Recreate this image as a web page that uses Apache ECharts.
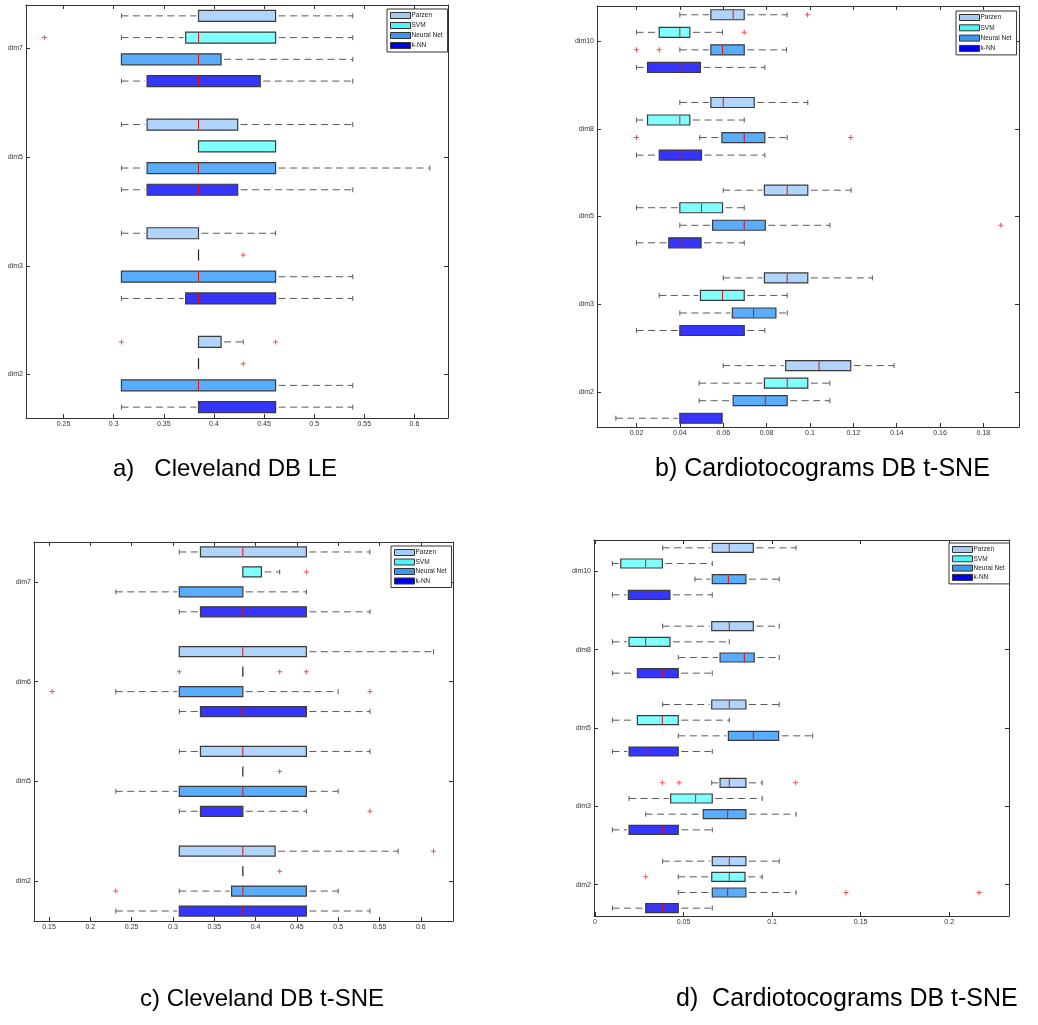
<!DOCTYPE html>
<html><head><meta charset="utf-8">
<script src="https://cdn.jsdelivr.net/npm/echarts@6/dist/echarts.min.js"></script>
<style>html,body{margin:0;padding:0;background:#fff}#c{width:1038px;height:1025px}</style>
</head><body><div id="c"></div>
<script>
const METHODS = ['Parzen', 'SVM', 'Neural Net', 'k-NN'];

// each row: [min, q1, median, q3, max], rows in the order of the dims list (top to bottom)
// ---- a) Cleveland DB LE
const A_DIMS = ['dim7', 'dim5', 'dim3', 'dim2'];
const A_XTICKS = [0.25, 0.3, 0.35, 0.4, 0.45, 0.5, 0.55, 0.6];
const A_PARZEN = [[0.3077,0.3846,0.3846,0.4615,0.5385],[0.3077,0.3333,0.3846,0.4237,0.5385],[0.3077,0.3333,0.3846,0.3846,0.4615],[0.3846,0.3846,0.3846,0.4071,0.4292]];
const A_SVM    = [[0.3077,0.3718,0.3846,0.4615,0.5385],[0.3846,0.3846,0.3846,0.4615,0.4615],[0.3846,0.3846,0.3846,0.3846,0.3846],[0.3846,0.3846,0.3846,0.3846,0.3846]];
const A_NN     = [[0.3077,0.3077,0.3846,0.4071,0.5385],[0.3077,0.3333,0.3846,0.4615,0.6154],[0.3077,0.3077,0.3846,0.4615,0.5385],[0.3077,0.3077,0.3846,0.4615,0.5385]];
const A_KNN    = [[0.3077,0.3333,0.3846,0.4462,0.5385],[0.3077,0.3333,0.3846,0.4237,0.5385],[0.3077,0.3718,0.3846,0.4615,0.5385],[0.3077,0.3846,0.3846,0.4615,0.5385]];
const A_OUT = [['dim7','SVM',0.2308],['dim3','SVM',0.4292],['dim2','Parzen',0.3077],['dim2','Parzen',0.4615],['dim2','SVM',0.4292]];

// ---- b) Cardiotocograms DB t-SNE
const B_DIMS = ['dim10', 'dim8', 'dim5', 'dim3', 'dim2'];
const B_XTICKS = [0.02, 0.04, 0.06, 0.08, 0.1, 0.12, 0.14, 0.16, 0.18];
const B_PARZEN = [[0.04,0.0543,0.0646,0.0697,0.0895],[0.04,0.0543,0.06,0.0743,0.099],[0.06,0.079,0.0895,0.099,0.119],[0.06,0.079,0.0895,0.099,0.1288],[0.06,0.0888,0.1042,0.1188,0.1388]];
const B_SVM    = [[0.02,0.0305,0.04,0.0446,0.0597],[0.02,0.0251,0.04,0.0446,0.0697],[0.02,0.04,0.05,0.0597,0.0697],[0.0305,0.0495,0.0597,0.0697,0.0895],[0.0489,0.079,0.0895,0.099,0.1092]];
const B_NN     = [[0.04,0.0543,0.0597,0.0697,0.0892],[0.0492,0.0594,0.0697,0.0792,0.0895],[0.04,0.0551,0.0697,0.0794,0.1092],[0.04,0.0642,0.074,0.0843,0.0895],[0.0489,0.0646,0.0794,0.0895,0.1092]];
const B_KNN    = [[0.02,0.0251,0.04,0.0495,0.0792],[0.02,0.0305,0.04,0.05,0.0792],[0.02,0.0349,0.04,0.0498,0.0697],[0.02,0.04,0.05,0.0697,0.0792],[0.0105,0.04,0.05,0.0595,0.0595]];
const B_OUT = [['dim10','Parzen',0.0989],['dim10','SVM',0.0697],['dim10','Neural Net',0.02],['dim10','Neural Net',0.0305],['dim8','Neural Net',0.02],['dim8','Neural Net',0.1188],['dim5','Neural Net',0.188]];

// ---- c) Cleveland DB t-SNE
const C_DIMS = ['dim7', 'dim6', 'dim5', 'dim2'];
const C_XTICKS = [0.15, 0.2, 0.25, 0.3, 0.35, 0.4, 0.45, 0.5, 0.55, 0.6];
const C_PARZEN = [[0.3077,0.3333,0.3846,0.4615,0.5385],[0.3077,0.3077,0.3846,0.4615,0.6154],[0.3077,0.3333,0.3846,0.4615,0.5385],[0.3077,0.3077,0.3846,0.4237,0.5726]];
const C_SVM    = [[0.3846,0.3846,0.3846,0.4071,0.4292],[0.3846,0.3846,0.3846,0.3846,0.3846],[0.3846,0.3846,0.3846,0.3846,0.3846],[0.3846,0.3846,0.3846,0.3846,0.3846]];
const C_NN     = [[0.2308,0.3077,0.3846,0.3846,0.4615],[0.2308,0.3077,0.3846,0.3846,0.5],[0.2308,0.3077,0.3846,0.4615,0.5],[0.3077,0.371,0.3846,0.4615,0.5]];
const C_KNN    = [[0.3077,0.3333,0.3846,0.4615,0.5385],[0.3077,0.3333,0.3846,0.4615,0.5385],[0.3077,0.3333,0.3846,0.3846,0.4615],[0.2308,0.3077,0.3846,0.4615,0.5385]];
const C_OUT = [['dim7','SVM',0.4615],['dim6','SVM',0.3077],['dim6','SVM',0.4292],['dim6','SVM',0.4615],['dim6','Neural Net',0.1538],['dim6','Neural Net',0.5385],['dim5','SVM',0.4292],['dim5','k-NN',0.5385],['dim2','Parzen',0.6154],['dim2','SVM',0.4292],['dim2','Neural Net',0.2308]];

// ---- d) Cardiotocograms DB t-SNE
const D_DIMS = ['dim10', 'dim8', 'dim5', 'dim3', 'dim2'];
const D_XTICKS = [0, 0.05, 0.1, 0.15, 0.2];
const D_PARZEN = [[0.0382,0.0662,0.0758,0.0894,0.1135],[0.0382,0.0659,0.0758,0.0894,0.104],[0.0382,0.0659,0.0758,0.0852,0.104],[0.0659,0.0706,0.0758,0.0852,0.0944],[0.0382,0.0662,0.0758,0.0852,0.104]];
const D_SVM    = [[0.0098,0.0145,0.0286,0.038,0.0662],[0.0098,0.0192,0.0286,0.0423,0.0758],[0.0098,0.0239,0.038,0.047,0.0758],[0.0192,0.0427,0.0568,0.0662,0.0944],[0.047,0.0659,0.0758,0.0847,0.0944]];
const D_NN     = [[0.0564,0.0662,0.0753,0.0852,0.104],[0.047,0.0706,0.0843,0.0899,0.104],[0.047,0.0753,0.0894,0.1037,0.1229],[0.0286,0.0611,0.0749,0.0852,0.1135],[0.047,0.0662,0.0749,0.0852,0.1135]];
const D_KNN    = [[0.0098,0.0188,0.0286,0.0423,0.0662],[0.0098,0.0239,0.038,0.047,0.0662],[0.0098,0.0192,0.0286,0.047,0.0662],[0.0098,0.0192,0.038,0.047,0.0662],[0.0098,0.0286,0.038,0.047,0.0662]];
const D_OUT = [['dim10','Neural Net',0.2245],['dim3','Parzen',0.038],['dim3','Parzen',0.0474],['dim3','Parzen',0.1133],['dim2','SVM',0.0286],['dim2','Neural Net',0.1417],['dim2','Neural Net',0.2169]];

const CAPTIONS = ['a)   Cleveland DB LE', 'b) Cardiotocograms DB t-SNE', 'c) Cleveland DB t-SNE', 'd)  Cardiotocograms DB t-SNE'];

// ---------------- styling / layout ----------------
const FILL = ['#b0d4fc', '#80ffff', '#5aacfc', '#3535fc'];
const LEGEND_FILL = ['#a4cbf3', '#4ff5f5', '#3c98ea', '#0000f0'];
const FONT = 'Liberation Sans';

const PANELS = [
  {dims:A_DIMS, ticks:A_XTICKS, series:[A_PARZEN,A_SVM,A_NN,A_KNN], out:A_OUT,
   grid:{left:26, top:5, width:422, height:413}, xmin:0.2125, xmax:0.6335, boxH:11,
   legend:{left:387, top:9, gap:3}, caption:{x:113, y:470, size:24}},
  {dims:B_DIMS, ticks:B_XTICKS, series:[B_PARZEN,B_SVM,B_NN,B_KNN], out:B_OUT,
   grid:{left:597, top:6, width:422, height:421}, xmin:0.0018, xmax:0.1964, boxH:10,
   legend:{left:956, top:11, gap:3.3}, caption:{x:655, y:470, size:25}},
  {dims:C_DIMS, ticks:C_XTICKS, series:[C_PARZEN,C_SVM,C_NN,C_KNN], out:C_OUT,
   grid:{left:34, top:542, width:419, height:379}, xmin:0.1318, xmax:0.639, boxH:10,
   legend:{left:391, top:546, gap:2.5}, caption:{x:140, y:1000, size:24}},
  {dims:D_DIMS, ticks:D_XTICKS, series:[D_PARZEN,D_SVM,D_NN,D_KNN], out:D_OUT,
   grid:{left:594, top:540, width:415, height:376}, xmin:-0.0006, xmax:0.2338, boxH:9,
   legend:{left:949, top:543, gap:2.3}, caption:{x:676, y:1000, size:25}}
];

// vertical offset of each method inside a dim group (in axis units)
function methodOffset(k) { return (1.5 - k) * 0.2; }

function makeRender(boxH, fill) {
  return function (params, api) {
    const y = api.value(0);
    const v = [api.value(1), api.value(2), api.value(3), api.value(4), api.value(5)];
    const p = v.map(function (x) { return api.coord([x, y]); });
    const cy = p[0][1];
    const hh = boxH / 2, ch = 2.5;
    const kids = [];
    const wStyle = {stroke: '#5a5a5a', lineWidth: 1, lineDash: [7, 4.5], fill: null};
    const cStyle = {stroke: '#5a5a5a', lineWidth: 1};
    if (v[0] < v[1]) {
      kids.push({type: 'line', shape: {x1: p[0][0], y1: cy, x2: p[1][0] - 2, y2: cy}, style: wStyle});
      kids.push({type: 'line', shape: {x1: p[0][0], y1: cy - ch, x2: p[0][0], y2: cy + ch}, style: cStyle});
    }
    if (v[4] > v[3]) {
      kids.push({type: 'line', shape: {x1: p[3][0] + 3, y1: cy, x2: p[4][0], y2: cy}, style: wStyle});
      kids.push({type: 'line', shape: {x1: p[4][0], y1: cy - ch, x2: p[4][0], y2: cy + ch}, style: cStyle});
    }
    if (v[3] > v[1]) {
      kids.push({type: 'rect', shape: {x: p[1][0], y: cy - hh, width: p[3][0] - p[1][0], height: boxH},
        style: {fill: fill, stroke: '#3a3a3a', lineWidth: 1.2}});
      if (v[2] > v[1] + 1e-6 && v[2] < v[3] - 1e-6) {
        kids.push({type: 'line', shape: {x1: p[2][0], y1: cy - hh + 0.6, x2: p[2][0], y2: cy + hh - 0.6},
          style: {stroke: '#e01010', lineWidth: 1}});
      }
    } else {
      kids.push({type: 'line', shape: {x1: p[1][0], y1: cy - hh, x2: p[1][0], y2: cy + hh},
        style: {stroke: '#222', lineWidth: 1.2}});
    }
    return {type: 'group', children: kids};
  };
}

const grids = [], xAxes = [], yAxes = [], series = [], legends = [], graphics = [];
const axisLine = {show: true, onZero: false, lineStyle: {color: '#333', width: 1}};
const labelStyle = {fontSize: 7, color: '#333', fontFamily: FONT};

PANELS.forEach(function (P, pi) {
  const n = P.dims.length;
  grids.push(Object.assign({containLabel: false}, P.grid));
  const ymin = 0.6, ymax = n + 0.4;
  const yVals = P.dims.map(function (d, i) { return n - i; });
  const fmtX = function (v) { return String(+(+v).toFixed(4)); };
  xAxes.push({type: 'value', gridIndex: pi, position: 'bottom', min: P.xmin, max: P.xmax,
    axisLine: axisLine, splitLine: {show: false},
    axisTick: {show: true, inside: true, length: 4, lineStyle: {color: '#333'}, customValues: P.ticks},
    axisLabel: {show: true, margin: 3, customValues: P.ticks, formatter: fmtX, ...labelStyle}});
  xAxes.push({type: 'value', gridIndex: pi, position: 'top', min: P.xmin, max: P.xmax,
    axisLine: axisLine, splitLine: {show: false},
    axisTick: {show: true, inside: true, length: 4, lineStyle: {color: '#333'}, customValues: P.ticks},
    axisLabel: {show: false}});
  const fmtY = function (v) { return P.dims[n - Math.round(v)]; };
  yAxes.push({type: 'value', gridIndex: pi, position: 'left', min: ymin, max: ymax,
    axisLine: axisLine, splitLine: {show: false},
    axisTick: {show: true, inside: true, length: 4, lineStyle: {color: '#333'}, customValues: yVals},
    axisLabel: {show: true, margin: 3, customValues: yVals, formatter: fmtY, ...labelStyle}});
  yAxes.push({type: 'value', gridIndex: pi, position: 'right', min: ymin, max: ymax,
    axisLine: axisLine, splitLine: {show: false},
    axisTick: {show: true, inside: true, length: 4, lineStyle: {color: '#333'}, customValues: yVals},
    axisLabel: {show: false}});

  P.series.forEach(function (rows, k) {
    series.push({
      type: 'custom', name: METHODS[k], coordinateSystem: 'cartesian2d',
      xAxisIndex: 2 * pi, yAxisIndex: 2 * pi, clip: true,
      itemStyle: {color: FILL[k]},
      encode: {x: [1, 2, 3, 4, 5], y: 0},
      renderItem: makeRender(P.boxH, FILL[k]),
      data: rows.map(function (r, i) { return [n - i + methodOffset(k)].concat(r); })
    });
  });
  series.push({
    type: 'scatter', name: 'outliers', xAxisIndex: 2 * pi, yAxisIndex: 2 * pi, silent: true,
    symbol: 'path://M2,0h1v2h2v1h-2v2h-1v-2h-2v-1h2z', symbolSize: 5,
    itemStyle: {color: '#ff2020'},
    data: P.out.map(function (o) {
      const i = P.dims.indexOf(o[0]), k = METHODS.indexOf(o[1]);
      return [o[2], n - i + methodOffset(k)];
    })
  });

  legends.push({
    orient: 'vertical', left: P.legend.left, top: P.legend.top,
    itemWidth: 20, itemHeight: 6, itemGap: P.legend.gap, padding: [3, 5, 3, 3],
    backgroundColor: '#fff', borderColor: '#333', borderWidth: 1, borderRadius: 0,
    icon: 'rect', selectedMode: false, z: 10,
    textStyle: {fontSize: 6.5, color: '#222', fontFamily: FONT, padding: [0, 0, 0, -4]},
    data: METHODS.map(function (m, k) {
      return {name: m, itemStyle: {color: LEGEND_FILL[k], borderColor: '#333', borderWidth: 1}};
    })
  });

  graphics.push({type: 'text', left: P.caption.x, top: P.caption.y - P.caption.size / 2 - 1,
    style: {text: CAPTIONS[pi], fontSize: P.caption.size, fontFamily: FONT, fill: '#000'}});
});

const chart = echarts.init(document.getElementById('c'), null, {renderer: 'canvas'});
chart.setOption({
  animation: false,
  backgroundColor: '#fff',
  grid: grids, xAxis: xAxes, yAxis: yAxes,
  legend: legends, series: series, graphic: graphics
});
</script>
</body></html>
